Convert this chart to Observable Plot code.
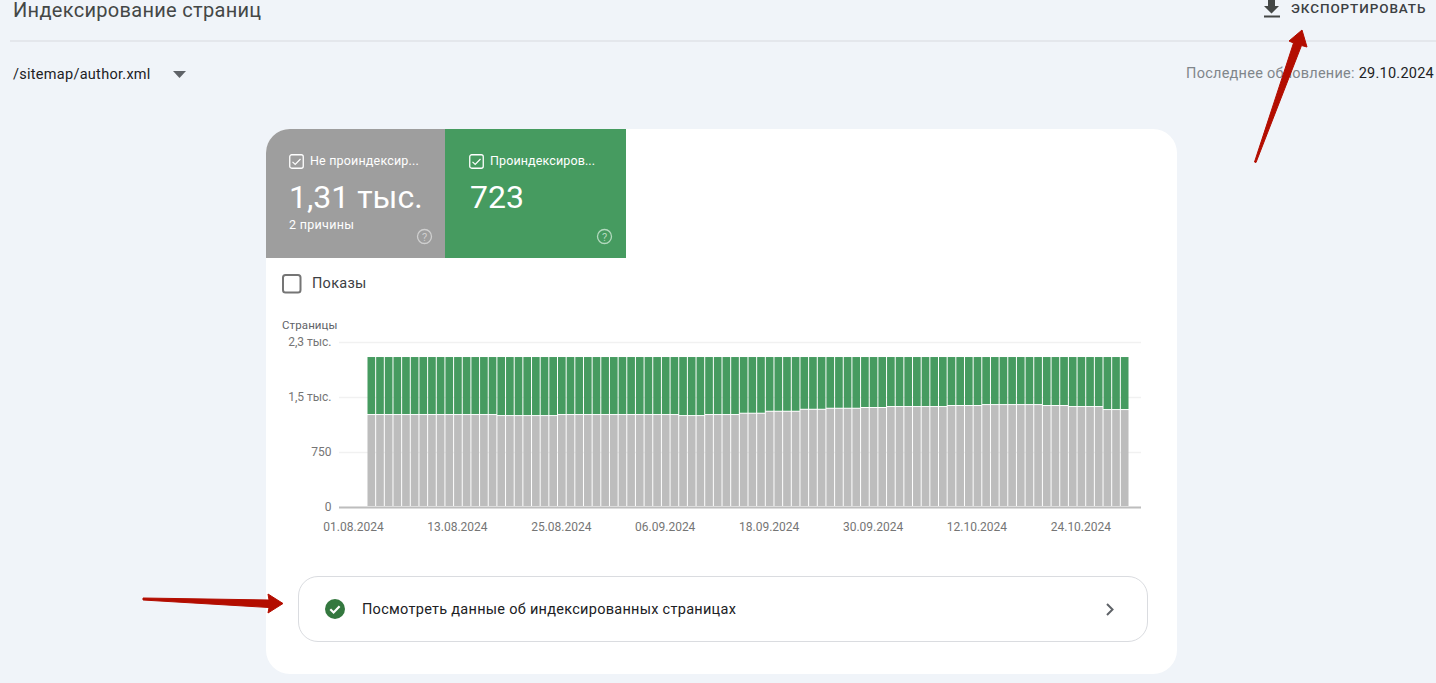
<!DOCTYPE html>
<html lang="ru">
<head>
<meta charset="utf-8">
<script src="https://cdn.jsdelivr.net/npm/d3@7"></script>
<script src="https://cdn.jsdelivr.net/npm/@observablehq/plot@0.6"></script>
<style>
  html, body { margin: 0; width: 1436px; height: 683px; overflow: hidden; background: #f0f4f9; font-family: Roboto, sans-serif; }
  .abs { position: absolute; white-space: nowrap; line-height: 1; }
  #card { left: 266px; top: 129px; width: 911px; height: 545px; background: #fff; border-radius: 24px; }
  .tile { top: 129px; height: 129px; color: #fff; }
  #tile1 { left: 266px; width: 179px; background: #9e9e9e; border-top-left-radius: 24px; }
  #tile2 { left: 445px; width: 181px; background: #469b60; }
  .tile .abs { position: absolute; }
  #divider { left: 10px; top: 40px; width: 1426px; height: 2px; background: #e4e7ec; }
  #chart { left: 266px; top: 330px; }
  #link { left: 298px; top: 576px; width: 848px; height: 64px; border: 1px solid #dadce0; border-radius: 20px; }
  svg.icon { position: absolute; overflow: visible; }
</style>
</head>
<body>
<div class="abs" id="card"></div>
<div class="abs" style="left:13px;top:0;font-size:20px;color:#444746;letter-spacing:.3px">Индексирование страниц</div>
<svg class="icon" style="left:1263px;top:0" width="18" height="18"><path d="M5 0h7v6h4l-7.500 7.500L1 6h4zM1 15.500h16V17.500H1z" fill="#444746"/></svg>
<div class="abs" style="left:1291px;top:2px;font-size:13.500px;font-weight:500;color:#3c4043;letter-spacing:.9px">ЭКСПОРТИРОВАТЬ</div>
<div class="abs" id="divider"></div>
<div class="abs" style="left:13px;top:68px;font-size:14.500px;color:#202124;letter-spacing:.28px">/sitemap/author.xml</div>
<svg class="icon" style="left:173px;top:71px" width="13" height="7"><path d="M0 0h13L6.500 7z" fill="#5f6368"/></svg>
<div class="abs" style="right:2px;top:67px;font-size:14.500px;color:#80868b;letter-spacing:.25px">Последнее обновление: <span style="color:#202124">29.10.2024</span></div>

<div class="abs tile" id="tile1">
  <svg class="icon" style="left:23px;top:25px" width="15" height="15"><rect x=".75" y=".75" width="13.500" height="13.500" rx="2" fill="none" stroke="#fff" stroke-width="1.300"/><path d="M3.500 7.800l2.700 2.700 5.300-5.500" fill="none" stroke="#fff" stroke-width="1.200"/></svg>
  <div class="abs" style="left:44px;top:26px;font-size:12.500px;letter-spacing:.18px">Не проиндексир...</div>
  <div class="abs" style="left:23px;top:52px;font-size:32px">1,31 тыс.</div>
  <div class="abs" style="left:23px;top:90px;font-size:12.500px;letter-spacing:.3px">2 причины</div>
  <svg class="icon" style="left:151px;top:100px" width="15" height="15"><circle cx="7.500" cy="7.500" r="7" fill="none" stroke="#cfcfcf" stroke-width="1.300"/><text x="7.500" y="11.500" text-anchor="middle" font-size="11" fill="#cfcfcf">?</text></svg>
</div>
<div class="abs tile" id="tile2">
  <svg class="icon" style="left:24px;top:25px" width="15" height="15"><rect x=".75" y=".75" width="13.500" height="13.500" rx="2" fill="none" stroke="#fff" stroke-width="1.300"/><path d="M3.500 7.800l2.700 2.700 5.300-5.500" fill="none" stroke="#fff" stroke-width="1.200"/></svg>
  <div class="abs" style="left:45px;top:26px;font-size:12.500px;letter-spacing:.12px">Проиндексиров...</div>
  <div class="abs" style="left:25px;top:52px;font-size:32px">723</div>
  <svg class="icon" style="left:152px;top:100px" width="15" height="15"><circle cx="7.500" cy="7.500" r="7" fill="none" stroke="#b3d9be" stroke-width="1.300"/><text x="7.500" y="11.500" text-anchor="middle" font-size="11" fill="#b3d9be">?</text></svg>
</div>

<svg class="icon" style="left:282px;top:274px" width="20" height="20"><rect x="1" y="1" width="17.500" height="17.500" rx="2.500" fill="none" stroke="#757575" stroke-width="2"/></svg>
<div class="abs" style="left:312px;top:277px;font-size:14.500px;color:#3c4043;letter-spacing:.28px">Показы</div>
<div class="abs" style="left:282px;top:320px;font-size:11.500px;color:#5f6368;letter-spacing:.1px">Страницы</div>

<div class="abs" id="chart"></div>

<div class="abs" id="link"></div>
<svg class="icon" style="left:325px;top:599px" width="20" height="20"><circle cx="10" cy="10" r="10" fill="#34783f"/><path d="M5.300 10.200l3.300 3.300 6-6.300" fill="none" stroke="#fff" stroke-width="2.200"/></svg>
<div class="abs" style="left:362px;top:603px;font-size:14.500px;color:#202124;letter-spacing:.28px">Посмотреть данные об индексированных страницах</div>
<svg class="icon" style="left:1106px;top:603px" width="9" height="13"><path d="M1 1l5.500 5.500L1 12" fill="none" stroke="#5f6368" stroke-width="2"/></svg>

<!-- красные стрелки поверх скриншота -->
<svg class="icon" style="left:0;top:0;pointer-events:none" width="1436" height="683">
  <path d="M1254.500 162L1293.500 43L1289 41L1302 30L1307 47L1301.500 45.500L1256 162.500z" fill="#b30d00" stroke="#b30d00" stroke-linejoin="round"/>
  <path d="M143 598L269 600L268 594L283 603.500L268 613L269 607.500L143 600z" fill="#b30d00" stroke="#b30d00" stroke-linejoin="round"/>
</svg>

<script>
const firstDay = "01.08.2024"
const lastDay = "27.10.2024"

// не проиндексировано, по дням
const notIndexed = [
  1254,1254,1254,1254,1254,1254,1254,1254,1254,1254,1254,1254,1254,1254,1254,
  1240,1240,1240,1240,1240,1240,1240,
  1254,1254,1254,1254,1254,1254,1254,1254,1254,1254,1254,1254,1254,1254,
  1240,1240,1240,
  1254,1254,1254,1254,
  1272,1272,1272,
  1299,1299,1299,1299,
  1326,1326,1326,
  1340,1340,1340,1340,
  1350,1350,1350,
  1363,1363,1363,1363,1363,1363,1363,
  1377,1377,1377,1377,
  1390,1390,1390,1390,1390,1390,1390,
  1377,1377,1377,
  1363,1363,1363,1363,
  1322,1322,1322
]

// проиндексировано, по дням
const indexed = [
  791,791,791,791,791,791,791,791,791,791,791,791,791,791,791,
  805,805,805,805,805,805,805,
  791,791,791,791,791,791,791,791,791,791,791,791,791,791,
  805,805,805,
  791,791,791,791,
  773,773,773,
  746,746,746,746,
  719,719,719,
  705,705,705,705,
  695,695,695,
  682,682,682,682,682,682,682,
  668,668,668,668,
  655,655,655,655,655,655,655,
  668,668,668,
  682,682,682,682,
  723,723,723
]

const seriesNames = ["Не проиндексировано", "Проиндексировано"]
const seriesColors = ["#bdbdbd", "#469b60"]
const xTickLabels = ["01.08.2024","13.08.2024","25.08.2024","06.09.2024","18.09.2024","30.09.2024","12.10.2024","24.10.2024"]
const yTicks = [0, 750, 1500, 2250]
const yTickLabels = ["0", "750", "1,5 тыс.", "2,3 тыс."]

const parseDay = d3.utcParse("%d.%m.%Y")
const formatDay = d3.utcFormat("%d.%m.%Y")
const days = d3.utcDay.range(parseDay(firstDay), d3.utcDay.offset(parseDay(lastDay), 1))

const rows = [
  ...days.map((d, i) => ({ day: d, status: seriesNames[0], pages: notIndexed[i] })),
  ...days.map((d, i) => ({ day: d, status: seriesNames[1], pages: indexed[i] }))
]

const chart = Plot.plot({
  width: 880,
  height: 210,
  marginLeft: 73,
  marginRight: 5,
  marginTop: 12,
  marginBottom: 33,
  style: { background: "transparent", fontFamily: "Roboto, sans-serif", fontSize: "12px" },
  x: { type: "utc", domain: [new Date("2024-07-28T18:24Z"), new Date("2024-10-29T09:15Z")] },
  y: { domain: [0, 2250] },
  color: { domain: seriesNames, range: seriesColors },
  marks: [
    Plot.gridY(yTicks, { stroke: "#f1f1f1", strokeOpacity: 1, strokeWidth: 1.5 }),
    Plot.rectY(rows, {
      x: "day",
      interval: "day",
      y: "pages",
      fill: "status",
      insetLeft: 0.5,
      insetRight: 0.5,
      insetBottom: 1
    }),
    Plot.ruleY([0], { stroke: "#bdbdbd", strokeWidth: 2 }),
    Plot.axisY({
      ticks: yTicks,
      tickFormat: d => yTickLabels[yTicks.indexOf(d)],
      tickSize: 0,
      tickPadding: 8,
      label: null,
      color: "#757575"
    }),
    Plot.axisX({
      ticks: xTickLabels.map(parseDay),
      tickFormat: formatDay,
      tickSize: 0,
      tickPadding: 15,
      dx: -14,
      label: null,
      color: "#757575"
    })
  ]
})

document.getElementById("chart").append(chart)
</script>
</body>
</html>
